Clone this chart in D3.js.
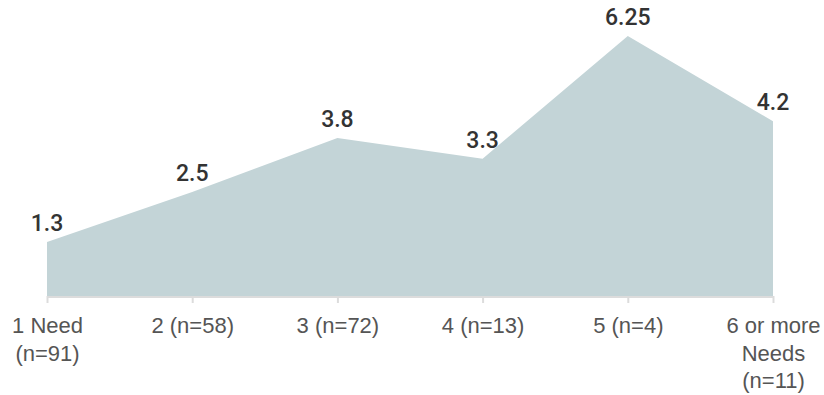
<!DOCTYPE html>
<html>
<head>
<meta charset="utf-8">
<script src="https://cdn.jsdelivr.net/npm/d3@7"></script>
<style>
  html, body { margin: 0; padding: 0; background: #fff; }
  svg { display: block; }
</style>
</head>
<body>
<svg id="chart" width="824" height="395"></svg>
<script>
const categories = ["1 Need\n(n=91)", "2 (n=58)", "3 (n=72)", "4 (n=13)", "5 (n=4)", "6 or more\nNeeds\n(n=11)"];
const values = [1.3, 2.5, 3.8, 3.3, 6.25, 4.2];
const valueLabels = ["1.3", "2.5", "3.8", "3.3", "6.25", "4.2"];

const svg = d3.select("#chart");
const x = d3.scalePoint().domain(categories).range([47, 773]);
const y = d3.scaleLinear().domain([0, 6.25]).range([296, 36]);

const data = categories.map((c, i) => ({ c, v: values[i], l: valueLabels[i] }));

const area = d3.area().x(d => x(d.c)).y0(y(0)).y1(d => y(d.v));
svg.append("path").datum(data).attr("d", area).attr("fill", "#c3d4d7");

const axis = svg.append("g").attr("transform", `translate(0,${y(0)})`)
  .call(d3.axisBottom(x).tickSize(7).tickPadding(10).tickFormat(""));
axis.select(".domain").attr("stroke", "#dcdcdc").attr("stroke-width", 2).attr("d", `M${x(categories[0])},1H${x(categories[categories.length-1])}`);
axis.selectAll(".tick line").attr("stroke", "#dcdcdc").attr("stroke-width", 2);

axis.selectAll(".tick").append("text")
  .attr("fill", "#555")
  .attr("text-anchor", "middle")
  .style("font-family", "'Liberation Sans', Arial, sans-serif")
  .style("font-size", "22px")
  .each(function(d) {
    const lines = d.split("\n");
    const t = d3.select(this);
    lines.forEach((ln, i) => {
      t.append("tspan").attr("x", 0).attr("y", 37 + i * 27.5).text(ln);
    });
  });

svg.append("g").selectAll("text").data(data).join("text")
  .attr("x", d => x(d.c))
  .attr("y", d => y(d.v) - 11)
  .attr("text-anchor", "middle")
  .attr("fill", "#333")
  .style("font-family", "Roboto, sans-serif")
  .style("font-weight", "500")
  .style("font-size", "23px")
  .text(d => d.l);
</script>
</body>
</html>
